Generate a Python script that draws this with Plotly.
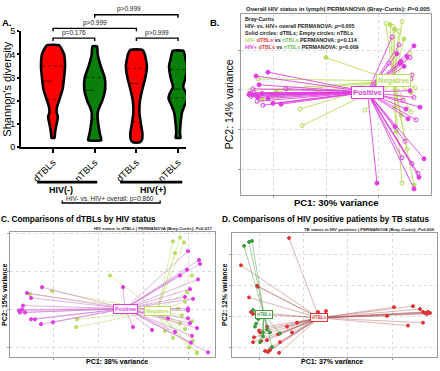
import numpy as np
import plotly.graph_objects as go

W, H = 440, 371
FONT = "Liberation Sans, Arial, sans-serif"

# ---------------- Panel A data (Shannon diversity violins) ----------------
a_cats = ["dTBLs", "nTBLs", "dTBLs", "nTBLs"]
a_groups = ["HIV(-)", "HIV(+)"]
a_colors = ["#FF0000", "#0A800A", "#FF0000", "#0A800A"]
# violin profiles: diversity value -> half width (category units)
v1_y = [0.40, 0.55, 0.75, 1.0, 1.3, 1.5, 1.75, 2.0, 2.5, 3.0, 3.5, 4.0, 4.25, 4.4]
v1_w = [0.04, 0.05, 0.065, 0.095, 0.13, 0.095, 0.11, 0.16, 0.255, 0.295, 0.32, 0.295, 0.225, 0.16]
v2_y = [0.3, 0.6, 1.0, 1.2, 1.5, 1.7, 2.0, 2.5, 3.0, 3.5, 4.0, 4.35]
v2_w = [0.175, 0.135, 0.095, 0.08, 0.08, 0.12, 0.2, 0.28, 0.265, 0.16, 0.08, 0.06]
v3_y = [0.2, 0.3, 0.6, 1.0, 1.5, 2.0, 2.5, 3.0, 3.5, 4.0, 4.2]
v3_w = [0.09, 0.145, 0.16, 0.12, 0.08, 0.095, 0.16, 0.24, 0.28, 0.225, 0.16]
v4_y = [0.4, 0.6, 1.0, 1.5, 1.8, 2.1, 2.3, 2.6, 3.0, 3.5, 3.8, 4.15]
v4_w = [0.065, 0.05, 0.065, 0.105, 0.175, 0.255, 0.225, 0.135, 0.2, 0.24, 0.2, 0.145]
a_quartiles = [[3.5, 2.85, 2.05], [3.0, 2.45, 1.2], [3.4, 2.75, 1.1], [3.35, 2.5, 2.12]]
a_brackets = [  # (cat from, cat to, label)
    (0, 1, "p=0.176"), (0, 2, "p>0.999"), (1, 3, "p>0.999"), (2, 3, "p>0.999")]
a_overall = "HIV- vs. HIV+ overall: p=0.860"

# ---------------- Panel B data (lymph, HIV status) ----------------
b_pos_pc1 = [-0.70, -0.58, -0.67, -0.73, -0.76, -0.74, -0.72, -0.77, -0.70, -0.75, -0.68, -0.63, -0.45,
             -0.58, -0.40, -0.64, -0.54, -0.53, -0.69,
             0.66, 0.88, 0.84, 0.78, 0.86, 0.75, 0.71, 0.63, 0.84, 0.77, 0.80, 0.90, 0.82, 0.98, 0.92,
             0.51, 0.86, 0.88, 0.73, 0.81, 0.74, 0.85, 0.93, 0.76, 0.69, 0.79, 0.88, 0.94]
b_pos_pc2 = [0.14, 0.18, 0.05, 0.01, -0.04, -0.05, -0.03, -0.05, -0.06, -0.07, -0.08, -0.16, -0.15,
             -0.09, 0.01, -0.04, -0.05, -0.14, -0.12,
             0.54, 0.45, 0.33, 0.24, 0.15, 0.29, 0.37, 0.27, -0.01, -0.11, -0.20, -0.31, -0.30, -0.71, -0.86,
             -0.96, -0.76, -1.02, 0.46, 0.34, 0.27, 0.11, -0.90, -0.70, -0.38, -0.53, -0.08, -0.18]
b_pos_tissue = "dddnddnddndnddndndn" + "ndndnddndndnddndndnddndndnnd"
b_neg_pc1 = [-0.68, -0.50, -0.26, -0.24, 0.00, -0.76, -0.64, 0.60, 0.64, 0.76, 0.69, 0.73, 0.67, 0.78,
             0.84, 0.85, 0.73, 0.85, 0.75, 0.39, 0.79, 0.89, 0.69, 0.76, 0.88, 0.81, 0.70]
b_neg_pc2 = [0.11, -0.02, -0.20, -0.37, 0.33, -0.01, -0.10, 0.68, 0.67, 0.70, 0.62, 0.60, 0.65, 0.52,
             0.37, -0.03, -0.08, -0.23, -0.26, -0.21, 0.07, 0.02, -0.18, -0.96, -0.98, -0.61, -0.43]
b_neg_tissue = "ndnndnd" + "ndndnndn" + "dnndndnd" + "ndnd"
b_centroids = {"Positive": (0.415, -0.025), "Negative": (0.675, 0.09)}

# ---------------- Panel C data (dTBLs by HIV status) ----------------
c_pos_pc1 = [-0.79, -0.78, -0.75, -0.71, -0.67, -0.56, -0.73, -0.67, -0.63, -0.57, -0.45, -0.76, 0.25, 0.35,
             0.90, 1.01, 1.02, 1.00, 0.89, 0.92, 0.95, 0.90, 0.90, 0.90, 0.92, 0.99, 0.94, 0.93, 1.10,
             0.77, 0.54, 0.82, 0.87, 0.70]
c_pos_pc2 = [-0.01, -0.03, 0.04, 0.17, 0.12, 0.23, -0.03, -0.10, -0.10, -0.15, -0.13, 0.00, 0.23, -0.18,
             0.60, 0.51, 0.47, 0.31, 0.41, 0.21, 0.11, 0.01, -0.01, -0.09, -0.14, -0.19, -0.27, -0.34, -0.44,
             -0.23, -0.21, 0.35, 0.13, -0.09]
c_neg_pc1 = [-0.68, -0.46, -0.21, -0.22, 0.12, 0.75, 0.82, 0.86, 0.77, 0.94, 0.89, 0.87, 0.82, 0.87,
             0.99, 0.99, 0.91, 0.75, 0.84, 0.94, 0.80, 0.67, 0.95]
c_neg_pc2 = [0.16, 0.19, -0.10, -0.18, 0.35, 0.70, 0.74, 0.69, 0.58, 0.35, 0.18, 0.08, -0.14, -0.20,
             -0.44, -0.45, -0.39, -0.29, -0.06, -0.12, 0.01, -0.22, -0.32]
c_centroids = {"Positive": (0.27, 0.01), "Negative": (0.59, -0.015)}

# ---------------- Panel D data (HIV+ by TB status) ----------------
d_n_pc1 = [-0.59, -0.54, -0.51, -0.50, -0.47, -0.48, -0.40, -0.33, -0.23, -0.31, -0.40, -0.45, -0.43, -0.36]
d_n_pc2 = [0.73, 0.77, 0.78, 0.07, -0.07, -0.10, -0.16, -0.16, -0.17, -0.31, -0.20, -0.02, -0.26, -0.13]
d_d_pc1 = [-0.14, -0.62, -0.46, -0.45, -0.54, -0.52, 0.15, 0.23, 0.91, 1.10, 1.20, 1.22, 1.24, 1.25, 1.27,
           0.84, 1.05, 1.20, -0.36, -0.43, -0.50, -0.42, -0.36, -0.38, -0.35, -0.33, -0.24, -0.25, -0.16,
           -0.06, -0.11, -0.23, -0.49, -0.44, -0.50, 1.17]
d_d_pc2 = [0.81, 0.53, 0.32, 0.31, 0.20, 0.05, 0.05, 0.06, 0.10, 0.11, 0.05, 0.04, 0.03, 0.05, 0.04,
           0.01, -0.09, -0.06, -0.10, -0.16, -0.26, -0.25, -0.24, -0.35, -0.36, -0.34, -0.37, -0.18, -0.10,
           -0.06, -0.16, -0.26, -0.21, -0.14, 0.03, 0.08]
d_centroids = {"dTBLs": (0.16, -0.01), "nTBLs": (-0.39, 0.02)}

VSCALE = 0.9  # drawing width scale of the violins


def fx(p):
    return p / W


def fy(p):
    return 1 - p / H


fig = go.Figure()

# ---------------- Panel A ----------------
profiles = [(v1_y, v1_w), (v2_y, v2_w), (v3_y, v3_w), (v4_y, v4_w)]
for i, (ys, ws) in enumerate(profiles):
    ws = [w * VSCALE for w in ws]
    xs = [i + w for w in ws] + [i - w for w in ws[::-1]] + [i + ws[0]]
    yy = list(ys) + list(ys[::-1]) + [ys[0]]
    fig.add_trace(go.Scatter(x=xs, y=yy, mode="lines", fill="toself", fillcolor=a_colors[i],
                             line=dict(color="black", width=2.6, shape="spline", smoothing=0.45),
                             xaxis="x", yaxis="y", showlegend=False, hoverinfo="skip"))
    for k, q in enumerate(a_quartiles[i]):
        hw = float(np.interp(q, ys, ws)) * 0.92
        fig.add_trace(go.Scatter(x=[i - hw, i + hw], y=[q, q], mode="lines",
                                 line=dict(color="rgba(0,0,0,0.6)", width=1,
                                           dash="dash" if k == 1 else "dot"),
                                 xaxis="x", yaxis="y", showlegend=False, hoverinfo="skip"))

shapes = []
annotations = []


def ann(text, x, y, size, bold=False, color="black", xanchor="center", yanchor="middle",
        angle=0, **kw):
    annotations.append(dict(text=("<b>%s</b>" % text) if bold else text, x=fx(x), y=fy(y),
                            xref="paper", yref="paper", showarrow=False,
                            font=dict(family=FONT, size=size, color=color),
                            xanchor=xanchor, yanchor=yanchor, textangle=angle, **kw))


bracket_y = {(0, 1): 34, (0, 2): 24, (1, 3): 10, (2, 3): 34}
text_x = {(0, 1): None, (0, 2): None, (1, 3): 1.83, (2, 3): None}
for c0, c1, lab in a_brackets:
    yb = bracket_y[(c0, c1)]
    shapes.append(dict(type="path", xref="x", yref="paper",
                       path="M %f,%f L %f,%f L %f,%f L %f,%f" % (
                           c0, fy(yb + 3), c0, fy(yb), c1, fy(yb), c1, fy(yb + 3)),
                       line=dict(color="black", width=1.4)))
    tx = text_x[(c0, c1)] if text_x[(c0, c1)] is not None else (c0 + c1) / 2
    annotations.append(dict(text=lab, x=tx, y=fy(yb - 0.3), xref="x", yref="paper", showarrow=False,
                            font=dict(family=FONT, size=6.5, color="#222"), yanchor="bottom",
                            borderpad=0))

# group bars under x labels
for g0, g1, lab, lx in [(-0.38, 1.06, a_groups[0], 0.19), (1.61, 3.1, a_groups[1], 2.4)]:
    shapes.append(dict(type="line", xref="x", yref="paper", x0=g0, x1=g1, y0=fy(182), y1=fy(182),
                       line=dict(color="black", width=2.6)))
    annotations.append(dict(text="<b>%s</b>" % lab, x=lx, y=fy(190), xref="x", yref="paper",
                            showarrow=False, font=dict(family=FONT, size=9, color="black")))
shapes.append(dict(type="path", xref="x", yref="paper",
                   path="M %f,%f L %f,%f L %f,%f L %f,%f" % (
                       0.22, fy(201), 0.22, fy(203.5), 2.57, fy(203.5), 2.57, fy(201)),
                   line=dict(color="black", width=1.3)))
annotations.append(dict(text=a_overall, x=1.37, y=fy(199.5), xref="x", yref="paper", showarrow=False,
                        font=dict(family=FONT, size=6.5, color="#222")))

ann("A.", 7, 18, 9.5, bold=True)
ann("Shannon's diversity", 7, 86, 11, angle=-90)

# ---------------- spider helpers ----------------


def spider(c, xs, ys):
    X, Y = [], []
    for x, y in zip(xs, ys):
        X += [c[0], x, None]
        Y += [c[1], y, None]
    return X, Y


def add_group(xa, ya, cen, xs, ys, tissue, lcol, mcol, lw, msize):
    X, Y = spider(cen, xs, ys)
    fig.add_trace(go.Scatter(x=X, y=Y, mode="lines", line=dict(color=lcol, width=lw),
                             xaxis=xa, yaxis=ya, showlegend=False, hoverinfo="skip"))
    syms = ["circle" if t == "d" else "circle-open" for t in tissue]
    fig.add_trace(go.Scatter(x=xs, y=ys, mode="markers",
                             marker=dict(color=mcol, size=msize, symbol=syms, line=dict(width=1, color=mcol)),
                             xaxis=xa, yaxis=ya, showlegend=False, hoverinfo="skip"))


MAG = "#E03CE0"
YG = "#BADC62"

# Panel B
add_group("x2", "y2", b_centroids["Negative"], b_neg_pc1, b_neg_pc2, b_neg_tissue,
          "rgba(190,222,100,0.95)", YG, 1.0, 4)
add_group("x2", "y2", b_centroids["Positive"], b_pos_pc1, b_pos_pc2, b_pos_tissue,
          "rgba(224,60,224,0.85)", MAG, 1.0, 4)
# Panel C
add_group("x3", "y3", c_centroids["Negative"], c_neg_pc1, c_neg_pc2, "d" * len(c_neg_pc1),
          "rgba(205,228,140,0.8)", YG, 0.9, 3.2)
add_group("x3", "y3", c_centroids["Positive"], c_pos_pc1, c_pos_pc2, "d" * len(c_pos_pc1),
          "rgba(205,110,205,0.6)", MAG, 0.9, 3.2)
# Panel D
add_group("x4", "y4", d_centroids["dTBLs"], d_d_pc1, d_d_pc2, "d" * len(d_d_pc1),
          "rgba(175,90,90,0.55)", "#DD3333", 0.8, 3)
add_group("x4", "y4", d_centroids["nTBLs"], d_n_pc1, d_n_pc2, "d" * len(d_n_pc1),
          "rgba(70,150,70,0.6)", "#3C9A3C", 0.8, 3)


def centroid_label(xa, ya, pos, text, col, size):
    annotations.append(dict(text="<b>%s</b>" % text, x=pos[0], y=pos[1], xref=xa, yref=ya,
                            showarrow=False, font=dict(family=FONT, size=size, color=col),
                            bgcolor="white", bordercolor=col, borderwidth=1, borderpad=1))


centroid_label("x2", "y2", b_centroids["Negative"], "Negative", YG, 7.5)
centroid_label("x2", "y2", b_centroids["Positive"], "Positive", MAG, 7.5)
centroid_label("x3", "y3", c_centroids["Negative"], "Negative", YG, 5.5)
centroid_label("x3", "y3", c_centroids["Positive"], "Positive", MAG, 5.5)
centroid_label("x4", "y4", d_centroids["dTBLs"], "dTBLs", "#DD3333", 4.5)
centroid_label("x4", "y4", d_centroids["nTBLs"], "nTBLs", "#3C9A3C", 4.5)

# Panel B texts
ann("B.", 215, 18, 9.5, bold=True)
ann("Overall HIV status in lymph| PERMANOVA (Bray-Curtis): <i>P</i>=0.005", 432, 4.5, 6, bold=True,
    color="#222", xanchor="right", borderpad=0)
RED = "#E8383D"
GRN = "#6CBF5E"
legend = ("<b>Bray-Curtis</b><br>"
          "<b>HIV- vs. HIV+ overall PERMANOVA: <i>p</i>=0.005</b><br>"
          "<b>Solid circles: dTBLs; Empty circles: nTBLs</b><br>"
          "<b><span style='color:%s'>HIV-</span> <span style='color:%s'>dTBLs</span> vs "
          "<span style='color:%s'>nTBLs</span> PERMANOVA: p=0.114</b><br>"
          "<b><span style='color:%s'>HIV+</span> <span style='color:%s'>dTBLs</span> vs "
          "<span style='color:%s'>nTBLs</span> PERMANOVA: p=0.009</b>") % (YG, RED, GRN, MAG, RED, GRN)
ann(legend, 242.5, 9.6, 5.3, color="#222", xanchor="left", yanchor="top", align="left")
ann("PC1: 30% variance", 336, 202.5, 9.5, bold=True)
ann("PC2: 14% variance", 229, 102, 10.5, angle=-90)

# Panel C texts
ann("C. Comparisons of dTBLs by HIV status", 0, 220, 8.2, bold=True, xanchor="left", borderpad=0)
ann("HIV status in dTBLs | PERMANOVA (Bray-Curtis): <i>P</i>=0.017", 213, 229.8, 4.3, bold=True,
    color="#222", xanchor="right", borderpad=0)
ann("PC1: 38% variance", 117, 371, 7, bold=True, yanchor="bottom", borderpad=0)
ann("PC2: 15% variance", 5, 298, 7, bold=True, angle=-90)

# Panel D texts
ann("D. Comparisons of HIV positive patients by TB status", 221, 220, 8.2, bold=True, xanchor="left",
    borderpad=0)
ann("TB status in HIV positives | PERMANOVA (Bray-Curtis): <i>P</i>=0.009", 436, 230.6, 4.3, bold=True,
    color="#222", xanchor="right", borderpad=0)
ann("PC1: 37% variance", 332, 371, 7, bold=True, yanchor="bottom", borderpad=0)
ann("PC2: 12% variance", 225, 298, 7, bold=True, angle=-90)


def pc_axis(domain, rng, ticks):
    return dict(domain=domain, range=rng, tickvals=ticks, showticklabels=False, ticks="outside",
                ticklen=2, tickcolor="#999", showgrid=True, gridcolor="#DADADA", griddash="dot",
                gridwidth=1, zeroline=False, showline=True, mirror=True, linecolor="#9A9A9A",
                linewidth=1)


fig.update_layout(
    width=W, height=H, margin=dict(l=0, r=0, t=0, b=0),
    paper_bgcolor="white", plot_bgcolor="white",
    font=dict(family=FONT, color="black"),
    xaxis=dict(domain=[fx(21), fx(186)], range=[-0.768, 3.19], tickvals=[0, 1, 2, 3], ticktext=a_cats,
               tickangle=-45, tickfont=dict(size=9.5, color="black"), ticks="outside", ticklen=4,
               tickwidth=1.5, tickcolor="black", showline=True, linecolor="black", linewidth=2,
               showgrid=False, zeroline=False),
    yaxis=dict(domain=[fy(146), fy(27)], range=[0, 5], dtick=1, tickfont=dict(size=9, color="black"),
               ticks="outside", ticklen=2, tickwidth=1.5, tickcolor="black", showline=True,
               linecolor="black", linewidth=2, showgrid=False, zeroline=False),
    xaxis2=pc_axis([fx(240.7), fx(430.7)], [-0.853, 1.047], [-0.525, 0, 0.525]),
    yaxis2=pc_axis([fy(195), fy(9.3)], [-1.08, 0.777], [-0.82, -0.41, 0, 0.40]),
    xaxis3=pc_axis([fx(10), fx(215)], [-0.88, 1.17], [-0.45, 0, 0.45, 0.90]),
    yaxis3=pc_axis([fy(361.7), fy(233.5)], [-0.487, 0.795], [-0.39, 0, 0.39, 0.78]),
    xaxis4=pc_axis([fx(231.7), fx(436.7)], [-0.713, 1.337], [-0.44, 0, 0.445, 0.89]),
    yaxis4=pc_axis([fy(361.7), fy(234.3)], [-0.412, 0.862], [-0.32, 0, 0.323, 0.645]),
    shapes=shapes, annotations=annotations,
)
for ax in ["xaxis2", "xaxis3", "xaxis4"]:
    fig.layout[ax].anchor = "y" + ax[-1]
for ax in ["yaxis2", "yaxis3", "yaxis4"]:
    fig.layout[ax].anchor = "x" + ax[-1]

fig.write_html("out.html", config={"displayModeBar": False},
               post_script="document.body.style.margin='0';document.body.style.padding='0';")
